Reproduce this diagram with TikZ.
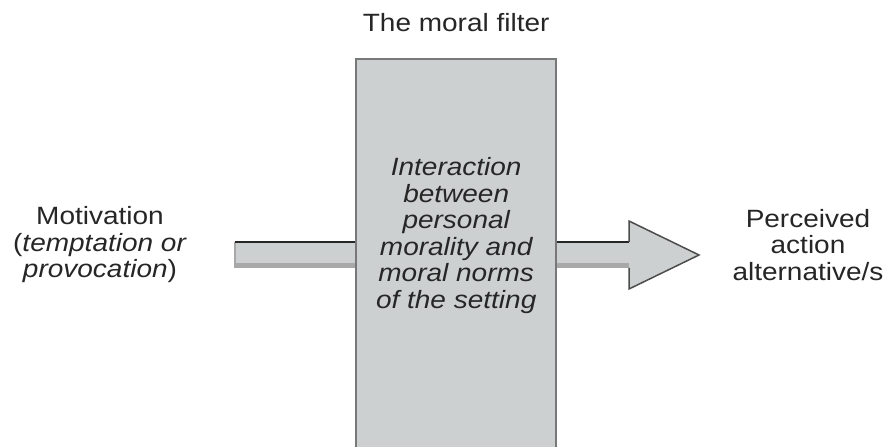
\documentclass[tikz,border=0pt]{standalone}
\usepackage{fontspec}
\setmainfont{Liberation Sans}[FakeStretch=1.12]
\usetikzlibrary{calc,positioning}
\definecolor{FilterClr}{rgb}{0.804,0.816,0.816}
\definecolor{EdgeClr}{rgb}{0.47,0.47,0.47}
\definecolor{ShadeClr}{rgb}{0.66,0.66,0.66}
\definecolor{TextClr}{rgb}{0.15,0.15,0.15}

\begin{document}
\begin{tikzpicture}[x=1pt,y=1pt,
  txt/.style={align=center,inner sep=0pt,text=TextClr,font=\fontsize{25}{26.5}\selectfont}]
\useasboundingbox (0,0) rectangle (889,447);

\node[fill=FilterClr,minimum width=200pt,minimum height=388pt,inner sep=0pt,anchor=south west] (filter) at (356,0) {};

\coordinate (inL) at (235,192);
\coordinate (inR) at (filter.west |- inL);
\fill[FilterClr] ($(inL)+(0,13)$) rectangle ($(inR)+(0,-13)$);
\fill[ShadeClr] ($(inL)+(0,-8)$) rectangle ($(inR)+(0,-13)$);
\draw[ShadeClr,line width=1.5pt] ($(inL)+(0,13)$) -- ($(inL)+(0,-13)$);
\draw[black!85,line width=1.5pt] ($(inL)+(0,13)$) -- ($(inR)+(0,13)$);

\coordinate (outL) at (filter.east |- inL);
\coordinate (head) at (629,192);
\coordinate (tip) at (699,192);
\fill[FilterClr] ($(outL)+(0,13)$) -- ($(head)+(0,13)$) -- ($(head)+(0,34)$) -- (tip)
  -- ($(head)+(0,-34)$) -- ($(head)+(0,-13)$) -- ($(outL)+(0,-13)$) -- cycle;
\fill[ShadeClr] ($(outL)+(0,-8)$) rectangle ($(head)+(0,-13)$);
\draw[black!85,line width=1.5pt] ($(outL)+(0,13)$) -- ($(head)+(0,13)$);
\draw[black!70,line width=1.5pt,line join=miter] ($(head)+(0,13)$) -- ($(head)+(0,34)$) -- (tip)
  -- ($(head)+(0,-34)$) -- ($(head)+(0,-13)$);

\draw[EdgeClr,line width=2pt] (filter.south west) -- (filter.north west) -- (filter.north east) -- (filter.south east);

\node[txt,above=27pt of filter] (title) {The moral filter};
\node[txt,font=\fontsize{25}{26.5}\selectfont\itshape,below=99pt of filter.north] (interact)
  {Interaction\\between\\personal\\morality and\\moral norms\\of the setting};
\node[txt] (motiv) at (100,202) {Motivation\\(\textit{temptation or}\\\textit{provocation})};
\node[txt] (percv) at (808,202) {Perceived\\action\\alternative/s};
\end{tikzpicture}
\end{document}
